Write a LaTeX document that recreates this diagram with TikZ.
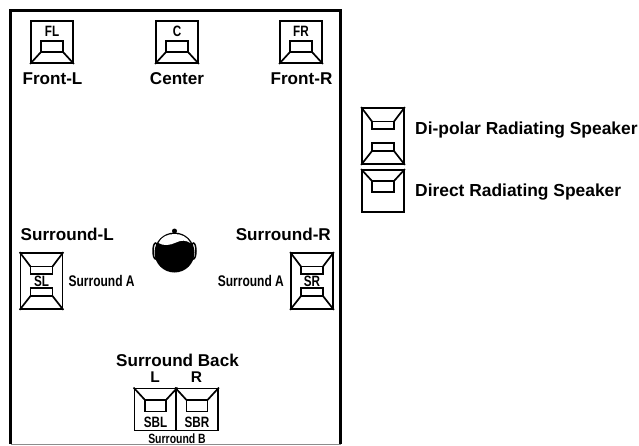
\documentclass[tikz,border=0pt]{standalone}
\usepackage{fontspec}
\setmainfont{Liberation Sans}
\newfontfamily\condfont[FakeStretch=0.78]{Liberation Sans}
\usetikzlibrary{arrows.meta, positioning, calc}
\tikzset{
    every node/.style={font=\bfseries\fontsize{17.1}{19}\selectfont, inner sep=0pt, text=black},
    every path/.style={line cap=butt, line join=miter},
    spkbox/.style={draw, line width=1.8pt, minimum width=42pt, minimum height=42pt},
    dipbox/.style={draw, line width=1.8pt, minimum width=42pt, minimum height=56pt},
    horn/.style={line width=1.7pt},
    chlabel/.style={font=\condfont\bfseries\fontsize{15}{17}\selectfont},
    sublabel/.style={font=\condfont\bfseries\fontsize{15.4}{17}\selectfont},
    tinylabel/.style={font=\condfont\bfseries\fontsize{13.4}{15}\selectfont},
    legendtxt/.style={font=\bfseries\fontsize{17.4}{19}\selectfont, anchor=west}
}
\begin{document}
\begin{tikzpicture}[x=1pt, y=-1pt]
    \useasboundingbox (0,0) rectangle (639,445);
    % listening room
    \draw [line width=3pt] (10.5,444) -- (10.5,10.5) -- (340.5,10.5) -- (340.5,444);
    \draw [line width=1pt, black!45] (10.5,444.5) -- (340.5,444.5);

    % front speakers, horn at the bottom
    \foreach \name/\xpos/\chan in {fl/52/FL, c/177/C, fr/301/FR} {
        \node [spkbox] (\name) at (\xpos,42) {};
        \node [chlabel, anchor=base] (\name txt) at ($(\name.north)+(0,16.5)$) {\chan};
        \draw [horn] ($(\name.center)+(-11,-1)$) rectangle ($(\name.center)+(11,10)$);
        \draw [horn] ($(\name.center)+(-11,10)$) -- (\name.south west);
        \draw [horn] ($(\name.center)+(11,10)$) -- (\name.south east);
    }
    \node [anchor=base] (fllabel) at (52.5,84.5) {Front-L};
    \node [anchor=base] (clabel) at (177,84.5) {Center};
    \node [anchor=base] (frlabel) at (301.5,84.5) {Front-R};

    % surround speakers, di-polar
    \foreach \name/\xpos/\ypos in {sl/41.5/281, sr/312/281, dip/383/136} {
        \node [dipbox] (\name) at (\xpos,\ypos) {};
        \draw [horn] ($(\name.center)+(-11,-14.5)$) rectangle ($(\name.center)+(11,-7)$);
        \draw [horn] ($(\name.center)+(-11,-14.5)$) -- (\name.north west);
        \draw [horn] ($(\name.center)+(11,-14.5)$) -- (\name.north east);
        \draw [horn] ($(\name.center)+(-11,7)$) rectangle ($(\name.center)+(11,15)$);
        \draw [horn] ($(\name.center)+(-11,15)$) -- (\name.south west);
        \draw [horn] ($(\name.center)+(11,15)$) -- (\name.south east);
    }
    \node [chlabel] (sltxt) at (sl.center) {SL};
    \node [chlabel] (srtxt) at (sr.center) {SR};
    \node [anchor=base west] (sllabel) at (20.5,240) {Surround-L};
    \node [anchor=base east] (srlabel) at (331,240) {Surround-R};
    \node [sublabel, right=5pt of sl] (slsub) {Surround A};
    \node [sublabel, left=6pt of sr] (srsub) {Surround A};

    % listener
    \draw [line width=1.5pt, fill=white] (155.5,251) ellipse (2.5 and 8);
    \draw [line width=1.5pt, fill=white] (193.5,251) ellipse (2.5 and 8);
    \fill (174.5,231) circle (2.5);
    \fill (174.5,252.5) circle (20);
    \fill [white] (158.5,243) .. controls (161.5,236.5) and (168,234) .. (174.5,234)
        .. controls (181,234) and (187,236.5) .. (190.5,243)
        .. controls (186,240) and (181,240) .. (176,242.5)
        .. controls (170,245.5) and (163,246) .. (158.5,243);

    % surround back, horn at the top
    \foreach \name/\xpos/\chan in {sbl/155.5/SBL, sbr/197/SBR} {
        \node [spkbox] (\name) at (\xpos,409.5) {};
        \node [chlabel, above=4pt of \name.south] (\name txt) {\chan};
        \draw [horn] ($(\name.center)+(-10.5,-9.5)$) rectangle ($(\name.center)+(10.5,2)$);
        \draw [horn] ($(\name.center)+(-10.5,-9.5)$) -- (\name.north west);
        \draw [horn] ($(\name.center)+(10.5,-9.5)$) -- (\name.north east);
    }
    \node [anchor=base] (sbtitle) at (177.5,366.5) {Surround Back};
    \node [anchor=base, font=\bfseries\fontsize{15.5}{17}\selectfont] (sbllabel) at (155,382.5) {L};
    \node [anchor=base, font=\bfseries\fontsize{15.5}{17}\selectfont] (sbrlabel) at (196.5,382.5) {R};
    \node [tinylabel, anchor=base] (sbsub) at (177,443) {Surround B};

    % legend
    \node [spkbox] (dir) at (383,191) {};
    \draw [horn] ($(dir.center)+(-11,-10)$) rectangle ($(dir.center)+(11,1)$);
    \draw [horn] ($(dir.center)+(-11,-10)$) -- (dir.north west);
    \draw [horn] ($(dir.center)+(11,-10)$) -- (dir.north east);
    \node [legendtxt] (diptxt) at (415,130) {Di-polar Radiating Speaker};
    \node [legendtxt] (dirtxt) at (415,192) {Direct Radiating Speaker};
\end{tikzpicture}
\end{document}
